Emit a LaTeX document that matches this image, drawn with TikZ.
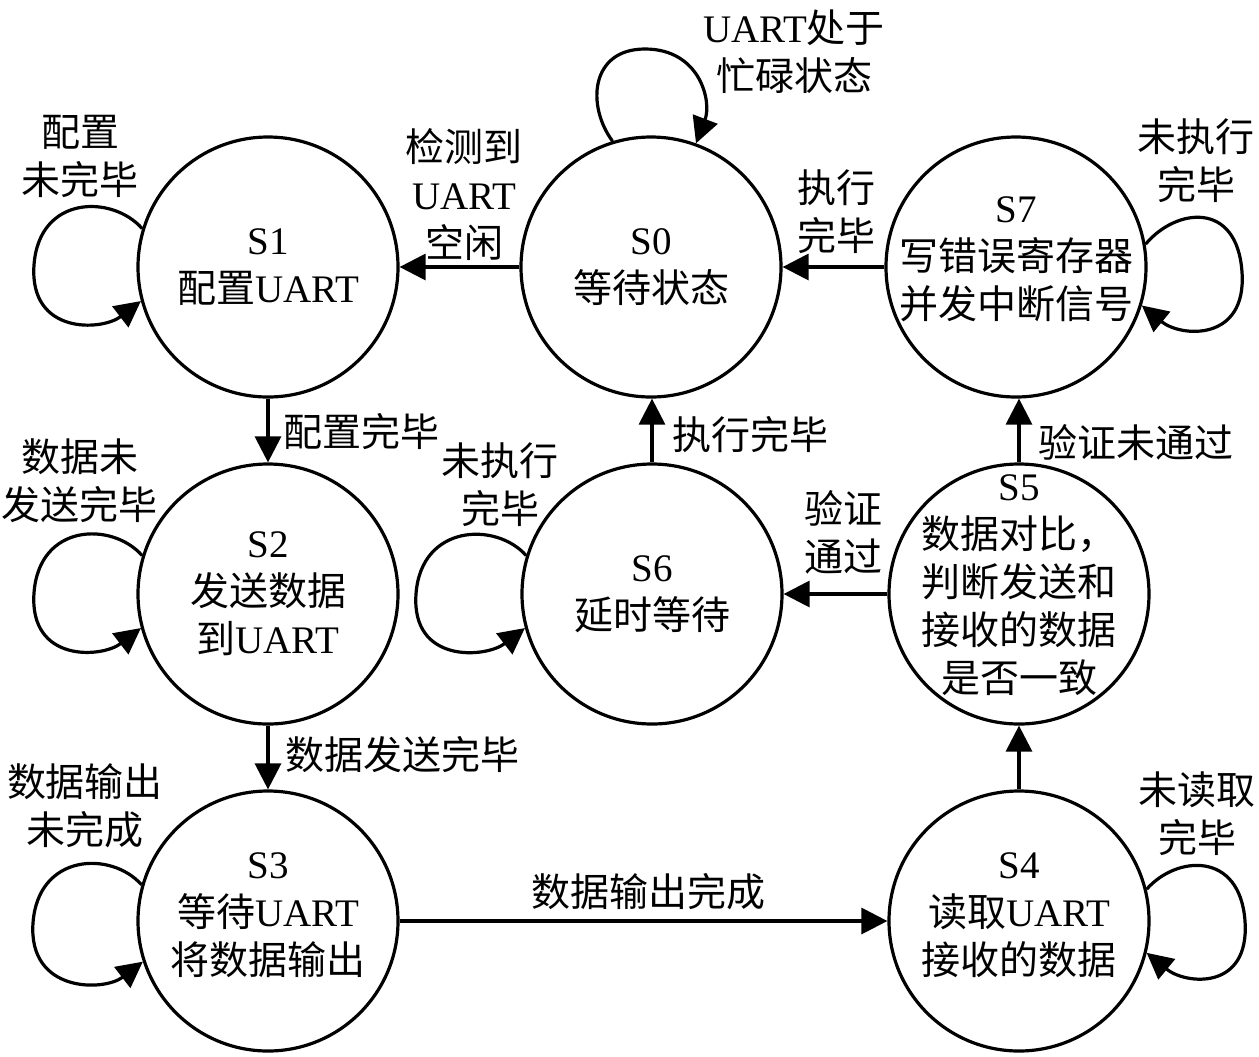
\documentclass[tikz,border=0pt]{standalone}
\usepackage{fontspec}
\setmainfont{Liberation Serif}
\newfontfamily\cjk{Noto Sans CJK SC}
\newcommand\zh[1]{{\cjk #1}}
\usetikzlibrary{arrows.meta,calc}
\begin{document}
\begin{tikzpicture}[x=0.5pt,y=-0.5pt,
  font=\fontsize{19.5pt}{24pt}\selectfont,
  state/.style={circle,draw,line width=1.6pt,minimum size=130pt,inner sep=0pt},
  stxt/.style={align=center,inner sep=0pt},
  lbl/.style={align=center,inner sep=0pt},
  arr/.style={line width=1.6pt,-{Triangle[length=13pt,width=13pt]}}]
\useasboundingbox (0,0) rectangle (1259,1056);
% states
\node[state] (S0) at (651,267) {};
\node[state] (S1) at (268,267) {};
\node[state] (S7) at (1016,267) {};
\node[state] (S2) at (268,594) {};
\node[state] (S6) at (652,594) {};
\node[state] (S5) at (1019,594) {};
\node[state] (S3) at (268,921) {};
\node[state] (S4) at (1019,921) {};
% state texts
\node[stxt] (S0t) at (S0.center) {S0\\\zh{等待状态}};
\node[stxt] (S1t) at (S1.center) {S1\\\zh{配置}UART};
\node[stxt] (S7t) at ([yshift=4pt]S7.center) {S7\\\zh{写错误寄存器}\\\zh{并发中断信号}};
\node[stxt] (S2t) at (S2.center) {S2\\\zh{发送数据}\\\zh{到}UART};
\node[stxt] (S6t) at (S6.center) {S6\\\zh{延时等待}};
\node[stxt] (S5t) at ([yshift=4.5pt]S5.center) {S5\\\zh{数据对比，}\\\zh{判断发送和}\\\zh{接收的数据}\\\zh{是否一致}};
\node[stxt] (S3t) at ([yshift=3pt]S3.center) {S3\\\zh{等待}UART\\\zh{将数据输出}};
\node[stxt] (S4t) at ([yshift=3pt]S4.center) {S4\\\zh{读取}UART\\\zh{接收的数据}};
% straight transitions
\draw[arr] (S0) -- (S1);
\draw[arr] (S7) -- (S0);
\draw[arr] (S1) -- (S2);
\draw[arr] (S2) -- (S3);
\draw[arr] (S3) -- (S4);
\draw[arr] (S4) -- (S5);
\draw[arr] (S5.north) -- (S5.north |- S7.south);
\draw[arr] (S5) -- (S6);
\draw[arr] (S6.north) -- (S6.north |- S0.south);
% self loops
\draw[arr] (S0.107) .. controls +(-26,-35) and +(-55,0) .. ([shift={(-6,-218)}]S0.center) .. controls +(55,0) and +(16,-42) .. (S0.70);
\draw[arr] (S1.163) .. controls +(-30,-34) and +(5,-70) .. ([shift={(-234,-2)}]S1.center) .. controls +(-5,70) and +(-39,30) .. (S1.195);
\draw[arr] (S2.163) .. controls +(-30,-34) and +(5,-70) .. ([shift={(-234,-1)}]S2.center) .. controls +(-5,70) and +(-39,30) .. (S2.195);
\draw[arr] (S3.164) .. controls +(-30,-34) and +(5,-70) .. ([shift={(-235,2)}]S3.center) .. controls +(-5,70) and +(-39,30) .. (S3.198);
\draw[arr] (S6.163) .. controls +(-30,-34) and +(5,-70) .. ([shift={(-236,0)}]S6.center) .. controls +(-5,70) and +(-39,30) .. (S6.195);
\draw[arr] (S7.10) .. controls +(30,-36) and +(-5,-72) .. ([shift={(226,5)}]S7.center) .. controls +(5,70) and +(39,32) .. (S7.343);
\draw[arr] (S4.14) .. controls +(30,-34) and +(-5,-70) .. ([shift={(226,0)}]S4.center) .. controls +(5,70) and +(39,32) .. (S4.346);
% labels
\node[lbl] (L01) at (464,195) {\zh{检测到}\\UART\\\zh{空闲}};
\node[lbl] (L00) at (794,52) {UART\zh{处于}\\\zh{忙碌状态}};
\node[lbl] (L11) at (80,156) {\zh{配置}\\\zh{未完毕}};
\node[lbl] (L70) at (836,212) {\zh{执行}\\\zh{完毕}};
\node[lbl] (L77) at (1196,161) {\zh{未执行}\\\zh{完毕}};
\node[lbl,anchor=west] (L12) at (283,432) {\zh{配置完毕}};
\node[lbl] (L22) at (80,481) {\zh{数据未}\\\zh{发送完毕}};
\node[lbl] (L66) at (500,485) {\zh{未执行}\\\zh{完毕}};
\node[lbl,anchor=west] (L60) at (672,435) {\zh{执行完毕}};
\node[lbl,anchor=west] (L57) at (1038,443) {\zh{验证未通过}};
\node[lbl] (L56) at (843,532) {\zh{验证}\\\zh{通过}};
\node[lbl,anchor=west] (L23) at (285,755) {\zh{数据发送完毕}};
\node[lbl] (L33) at (85,806) {\zh{数据输出}\\\zh{未完成}};
\node[lbl] (L34) at (648,892) {\zh{数据输出完成}};
\node[lbl] (L44) at (1197,814) {\zh{未读取}\\\zh{完毕}};
\end{tikzpicture}
\end{document}
